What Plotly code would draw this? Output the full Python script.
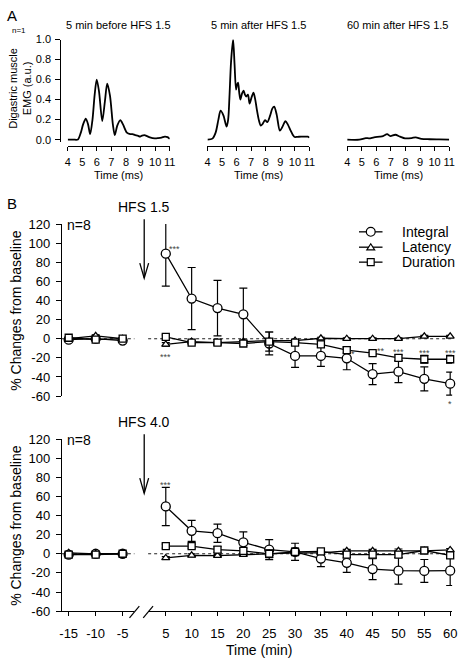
import plotly.graph_objects as go

W, H = 465, 668
FONT = "Liberation Sans, Arial, sans-serif"

# ---------------- Panel A data (EMG traces, a.u.) ----------------
emg_t_pre = [4.0, 4.4, 4.7, 4.9, 5.05, 5.24, 5.4, 5.54, 5.7, 5.85, 5.99, 6.15, 6.37, 6.55, 6.71,
             6.9, 7.1, 7.23, 7.4, 7.61, 7.8, 8.06, 8.29, 8.45, 8.63, 8.8, 8.97, 9.1, 9.26, 9.45,
             9.64, 9.98, 10.2, 10.44, 10.66, 10.85, 11.0]
emg_v_pre = [0.0, 0.0, 0.002, 0.07, 0.15, 0.21, 0.15, 0.055, 0.2, 0.45, 0.60, 0.48, 0.185, 0.38, 0.56,
             0.44, 0.15, 0.045, 0.14, 0.195, 0.15, 0.07, 0.055, 0.055, 0.045, 0.04, 0.03, 0.04, 0.045, 0.035,
             0.023, 0.013, 0.015, 0.02, 0.03, 0.025, 0.007]

emg_t_post = [4.0, 4.34, 4.56, 4.75, 4.9, 5.1, 5.31, 5.42, 5.51, 5.62, 5.76, 5.86, 5.96, 6.03, 6.1,
              6.18, 6.26, 6.37, 6.48, 6.57, 6.66, 6.78, 6.89, 7.02, 7.16, 7.28, 7.39, 7.52, 7.66, 7.8,
              7.95, 8.11, 8.3, 8.45, 8.58, 8.75, 8.97, 9.15, 9.35, 9.52, 9.71, 9.85, 9.98, 10.2, 10.43,
              10.7, 10.89, 11.0]
emg_v_post = [0.0, 0.01, 0.07, 0.2, 0.29, 0.24, 0.13, 0.2, 0.43, 0.78, 1.0, 0.75, 0.5, 0.55, 0.57,
              0.47, 0.40, 0.46, 0.49, 0.45, 0.43, 0.45, 0.36, 0.42, 0.47, 0.4, 0.30, 0.2, 0.14, 0.16,
              0.195, 0.175, 0.24, 0.31, 0.33, 0.25, 0.09, 0.13, 0.185, 0.15, 0.09, 0.05, 0.026, 0.028, 0.03,
              0.03, 0.03, 0.02]

emg_t_60 = [4.0, 4.83, 5.28, 5.5, 5.84, 6.24, 6.46, 6.74, 6.96, 7.3, 7.63, 7.97, 8.42, 8.7, 9.09,
            9.65, 10.3, 11.0]
emg_v_60 = [0.0, 0.0, 0.016, 0.013, 0.023, 0.03, 0.036, 0.055, 0.036, 0.049, 0.03, 0.013, 0.016, 0.023,
            0.008, 0.004, 0.002, 0.0]

panel_a_titles = ["5 min before HFS 1.5", "5 min after HFS 1.5", "60 min after HFS 1.5"]
ms_ticks = [4, 5, 6, 7, 8, 9, 10, 11]
emg_ticks = [0.0, 0.2, 0.4, 0.6, 0.8, 1.0]

# ---------------- Panel B data (% change from baseline) ----------------
time_pre = [-15, -10, -5]
time_post = [5, 10, 15, 20, 25, 30, 35, 40, 45, 50, 55, 60]
pct_ticks = [-60, -40, -20, 0, 20, 40, 60, 80, 100, 120]

# HFS 1.5
int15_pre = [-1, 0, -2]
int15_pre_sem = [2, 2, 2]
lat15_pre = [0, 3, 0]
lat15_pre_sem = [1, 1, 1]
dur15_pre = [1, -1, 0]
dur15_pre_sem = [1, 1, 1]
int15_post = [89, 42, 32, 25.5, -5, -18, -18, -20.5, -37, -34.5, -42, -47]
int15_post_sem = [34, 32.5, 29, 27.5, 12, 12, 11, 12, 11, 11.5, 12.5, 12]
lat15_post = [-6, -3, -4, -3, -2, -2, 0.5, 0, 0, 0, 2.4, 2.4]
lat15_post_sem = [2, 1, 1, 1, 2, 1, 1, 1, 1, 1, 1, 1]
dur15_post = [2, -4, -4, -5, -3, -4, -6, -12, -15, -20, -21.5, -21.5]
dur15_post_sem = [2, 2, 3, 2, 10, 3, 3, 3, 2, 3, 4, 4]

# HFS 4.0
int40_pre = [-1, 0, 0]
int40_pre_sem = [2, 1, 1]
lat40_pre = [1, 0, 0]
lat40_pre_sem = [1, 1, 1]
dur40_pre = [-1, -1, 0]
dur40_pre_sem = [1, 1, 1]
int40_post = [49.5, 24, 21.5, 12, 4.4, 2, -5, -9.5, -16, -17.7, -18, -17.7]
int40_post_sem = [20, 11, 9.5, 11, 10.5, 9, 8.5, 10, 11, 14, 12, 15.5]
lat40_post = [-4.4, -1.7, -2, -1, 0, 1, 1, 3, 3, 3, 3, 4]
lat40_post_sem = [1.5, 1.5, 1, 1, 1, 1, 1, 1.5, 1.5, 2, 1.5, 1.5]
dur40_post = [8, 8, 4.4, 3, 0, 2, 2.4, -1, -1, -1, 3.4, -1.7]
dur40_post_sem = [2, 2, 3, 3, 4, 4, 2, 3, 3, 3, 2, 3]

# significance marks: (label, time, y value, x shift px)
sig15 = [("***", 5, 96, 9), ("***", 5, -16.4, 0), ("*", 40, -13, 6), ("**", 45, -10.2, 8),
         ("***", 50, -11.2, 0), ("***", 55, -12, 0), ("***", 60, -12, 0)]
sig40 = [("***", 5, 75, 0)]

series_names = ["Integral", "Latency", "Duration"]
series_symbols = ["circle", "triangle-up", "square"]
series_sizes = [9, 7, 7]


def px(x):
    return x / W


def py(y):
    return 1 - y / H


def labels(vals):
    return [str(v) for v in vals]


fig = go.Figure()

# ---------- Panel A traces ----------
for i, (t, v) in enumerate([(emg_t_pre, emg_v_pre), (emg_t_post, emg_v_post), (emg_t_60, emg_v_60)]):
    sfx = "" if i == 0 else str(i + 1)
    fig.add_trace(go.Scatter(x=t, y=v, mode="lines", line=dict(color="black", width=1.8, shape="spline", smoothing=0.8),
                             xaxis="x" + sfx, yaxis="y" + sfx, showlegend=False, hoverinfo="skip"))

# ---------- Panel B traces ----------
def add_series(xa_pre, xa_post, ya, pre_vals, post_vals):
    for k in range(3):
        for xa, tt, (vals, sem) in ((xa_pre, time_pre, pre_vals[k]), (xa_post, time_post, post_vals[k])):
            fig.add_trace(go.Scatter(
                x=tt, y=vals, mode="lines+markers", xaxis=xa, yaxis=ya,
                line=dict(color="black", width=1.3),
                marker=dict(symbol=series_symbols[k], size=series_sizes[k], color="white",
                            line=dict(color="black", width=1.3)),
                error_y=dict(type="data", array=sem, color="black", thickness=1.2, width=4),
                cliponaxis=False, showlegend=False, name=series_names[k]))


add_series("x4", "x5", "y4",
           [(int15_pre, int15_pre_sem), (lat15_pre, lat15_pre_sem), (dur15_pre, dur15_pre_sem)],
           [(int15_post, int15_post_sem), (lat15_post, lat15_post_sem), (dur15_post, dur15_post_sem)])
add_series("x6", "x7", "y6",
           [(int40_pre, int40_pre_sem), (lat40_pre, lat40_pre_sem), (dur40_pre, dur40_pre_sem)],
           [(int40_post, int40_post_sem), (lat40_post, lat40_post_sem), (dur40_post, dur40_post_sem)])

# ---------- Axes ----------
axis_common = dict(showgrid=False, zeroline=False, linecolor="black", linewidth=1.2,
                   tickcolor="black", tickwidth=1.2, tickfont=dict(family=FONT, size=11, color="black"))
a_ydom = [py(138), py(33.3)]
a_yrange = [-0.0225, 1.0]
a_xdoms = [[px(66), px(170)], [px(208.5), px(312.5)], [px(351), px(455)]]

layout = dict(
    width=W, height=H, margin=dict(l=0, r=0, t=0, b=0),
    paper_bgcolor="white", plot_bgcolor="white", showlegend=False,
    font=dict(family=FONT, color="black"),
)
for i in range(3):
    sfx = "" if i == 0 else str(i + 1)
    layout["xaxis" + sfx] = dict(axis_common, domain=a_xdoms[i], range=[4, 11], anchor="free", position=py(142),
                                 showline=True, ticks="outside", ticklen=4, tickvals=ms_ticks, ticktext=labels(ms_ticks),
                                 ticklabelstandoff=2)
    if i == 0:
        layout["yaxis"] = dict(axis_common, domain=a_ydom, range=a_yrange, anchor="free", position=px(58.5),
                               showline=True, ticks="outside", ticklen=5, tickvals=emg_ticks,
                               ticktext=[f"{v:.1f}" for v in emg_ticks], ticklabelstandoff=2)
    else:
        layout["yaxis" + sfx] = dict(domain=a_ydom, range=a_yrange, visible=False, anchor="x" + sfx)

pre_range = [-16.27, -2.82]
post_range = [1.586, 60.38]
pre_dom = [px(60), px(134)]
post_dom = [px(148), px(458)]
b_tick = dict(family=FONT, size=13, color="black")

for ya, dom in (("y4", [py(398), py(222)]), ("y6", [py(618), py(442)])):
    xa = "x4" if ya == "y4" else "x6"
    layout["yaxis" + ya[1:]] = dict(axis_common, domain=dom, range=[-60, 120], anchor=xa, showline=True,
                                    ticks="outside", ticklen=5, tickvals=pct_ticks, ticktext=labels(pct_ticks),
                                    tickfont=b_tick, ticklabelstandoff=3)
layout["xaxis4"] = dict(domain=pre_dom, range=pre_range, anchor="y4", visible=False)
layout["xaxis5"] = dict(domain=post_dom, range=post_range, anchor="y4", visible=False)
layout["xaxis6"] = dict(axis_common, domain=pre_dom, range=pre_range, anchor="y6", showline=True,
                        ticks="outside", ticklen=4, tickvals=time_pre, ticktext=labels(time_pre),
                        tickfont=b_tick, ticklabelstandoff=6)
layout["xaxis7"] = dict(axis_common, domain=post_dom, range=post_range, anchor="y6", showline=True,
                        ticks="outside", ticklen=4, tickvals=time_post, ticktext=labels(time_post),
                        tickfont=b_tick, ticklabelstandoff=6)
fig.update_layout(**layout)

# ---------- Shapes ----------
shapes = []
for xa, ya in (("x4", "y4"), ("x5", "y4"), ("x6", "y6"), ("x7", "y6")):
    shapes.append(dict(type="line", xref=xa + " domain", yref=ya, x0=0, x1=1, y0=0, y1=0,
                       line=dict(color="#222", width=1.1, dash="dot"), layer="below"))
# axis break slashes
for x0 in (129, 143):
    shapes.append(dict(type="line", xref="paper", yref="paper", x0=px(x0), y0=py(625), x1=px(x0 + 10), y1=py(613),
                       line=dict(color="black", width=1.2)))
# arrows
for dy in (0, 220):
    shapes.append(dict(type="line", xref="paper", yref="paper", x0=px(144), y0=py(217 + dy), x1=px(144),
                       y1=py(277 + dy), line=dict(color="black", width=1.3)))
    shapes.append(dict(type="path", xref="paper", yref="paper",
                       path=f"M {px(139.5)},{py(262 + dy)} L {px(144)},{py(277.5 + dy)} L {px(148.5)},{py(262 + dy)}",
                       line=dict(color="black", width=1.3)))
# manual legend keys
leg_rows = [230, 245.7, 261]
for k, yr in enumerate(leg_rows):
    shapes.append(dict(type="line", xref="paper", yref="paper", x0=px(363), x1=px(387), y0=py(yr), y1=py(yr),
                       line=dict(color="black", width=1.3)))
    mk = dict(xref="paper", yref="paper", fillcolor="white", line=dict(color="black", width=1.2))
    if k == 0:
        shapes.append(dict(mk, type="circle", x0=px(375 - 4.5), x1=px(375 + 4.5), y0=py(yr + 4.5), y1=py(yr - 4.5)))
    elif k == 1:
        shapes.append(dict(mk, type="path",
                           path=f"M {px(371)},{py(yr + 2.8)} L {px(379)},{py(yr + 2.8)} L {px(375)},{py(yr - 3.5)} Z"))
    else:
        shapes.append(dict(mk, type="rect", x0=px(371.5), x1=px(378.5), y0=py(yr + 3.5), y1=py(yr - 3.5)))
fig.update_layout(shapes=shapes)

# ---------- Annotations ----------
ann = []


def text(x, y, s, size, **kw):
    d = dict(x=px(x), y=py(y), xref="paper", yref="paper", text=s, showarrow=False,
             font=dict(family=FONT, size=size, color=kw.pop("color", "black")), xanchor=kw.pop("xanchor", "center"),
             yanchor=kw.pop("yanchor", "middle"))
    d.update(kw)
    ann.append(d)


text(9, 9, "A", 15)
text(16, 24, "n=1", 8)
for title, xc in zip(panel_a_titles, [117.5, 260.5, 403]):
    text(xc, 18, title, 11)
for xc in [118, 260.5, 403]:
    text(xc, 172, "Time (ms)", 11)
text(17, 83, "Digastric muscle<br>EMG (a.u.)", 11, textangle=-90)

text(9, 201.5, "B", 15)
text(143.5, 205, "HFS 1.5", 14)
text(143.5, 425, "HFS 4.0", 14)
text(78, 223, "n=8", 14)
text(78, 443, "n=8", 14)
text(13, 310, "% Changes from baseline", 14, textangle=-90)
text(13, 530, "% Changes from baseline", 14, textangle=-90)
text(261, 658, "Time (min)", 14)
for name, yr in zip(series_names, leg_rows):
    text(405, yr, name, 14, xanchor="left")

for lab, t, yv, xs in sig15:
    ann.append(dict(x=t, y=max(yv, -60), xref="x5", yref="y4", text=lab, showarrow=False, xshift=xs, yshift=-2.5,
                    font=dict(family=FONT, size=9, color="#444")))
ann.append(dict(x=60, y=-60, xref="x5", yref="y4", text="*", showarrow=False, yshift=-7.5,
                font=dict(family=FONT, size=9, color="#444")))
for lab, t, yv, xs in sig40:
    ann.append(dict(x=t, y=yv, xref="x7", yref="y6", text=lab, showarrow=False, xshift=xs, yshift=-2.5,
                    font=dict(family=FONT, size=9, color="#444")))
fig.update_layout(annotations=ann)

fig.write_html("out.html")
